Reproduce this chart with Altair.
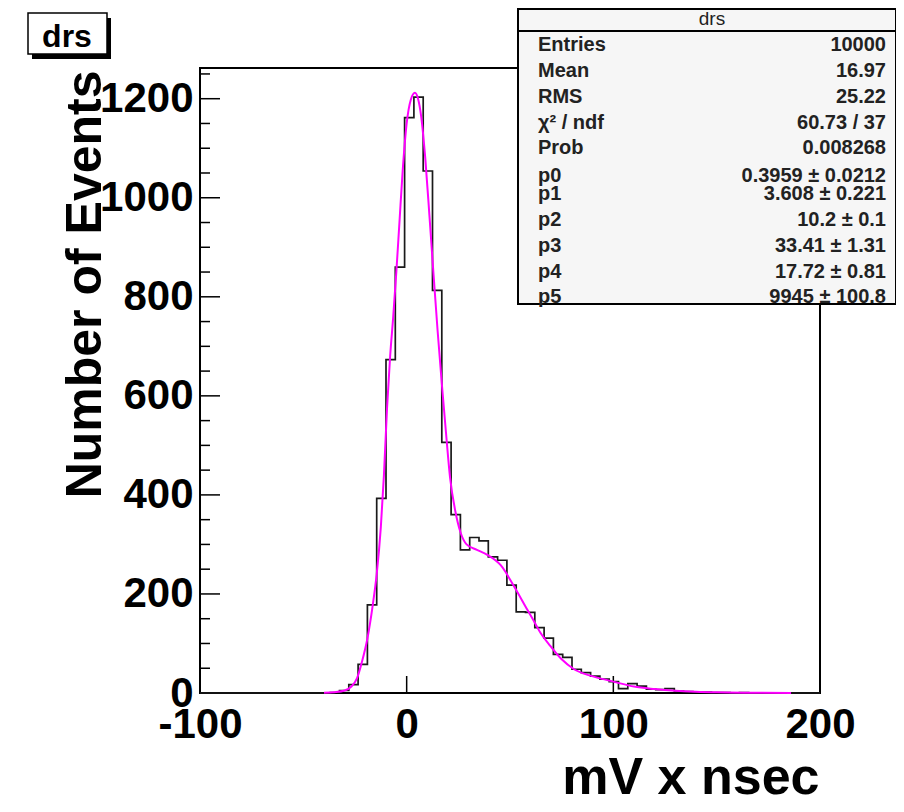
import altair as alt
import pandas as pd

# ---------------- data ----------------
bin_left = [-37, -32.5, -28, -23.5, -19, -14.5, -10, -5.5, -1, 3.5, 8, 12.5, 17,
            21.5, 26, 30.5, 35, 39.5, 44, 48.5, 53, 57.5, 62, 66.5, 71, 75.5, 80,
            84.5, 89, 93.5, 98, 102.5, 107, 111.5, 116, 120.5, 125, 129.5, 134,
            138.5, 143, 147.5, 152, 156.5, 161, 165.5]
counts = [1, 5, 17, 58, 178, 393, 673, 860, 1162, 1203, 1054, 813, 506,
          360, 289, 314, 307, 275, 268, 218, 164, 163, 132, 111, 78, 72, 48,
          41, 34, 28, 23, 9, 19, 14, 8, 7, 9, 4, 3,
          2, 2, 1, 1, 0, 1, 0]

fit_x = [-40, -35, -30, -27, -24, -21.5, -19, -16.5, -14.5, -12.5, -11, -9.5, -8,
         -6.5, -5, -3.5, -2, 0, 2, 4, 5.5, 7, 9, 11, 13, 15, 17, 19, 21, 23.5, 26,
         29, 34, 39, 45.5, 52, 58.4, 61.6, 64.8, 69.7, 75, 81, 88, 94, 100, 110,
         120, 130, 140, 150, 165, 186]
fit_y = [0.3, 1.5, 5, 12, 30, 65, 110, 175, 240, 335, 440, 575, 680,
         760, 850, 950, 1050, 1150, 1198, 1212, 1200, 1165, 1080, 965, 845, 730, 625, 527, 435, 368, 325,
         300, 289, 279, 258, 215, 168, 145, 121, 94, 68, 48, 36, 29, 23, 13,
         8, 4.5, 2.5, 1.3, 0.5, 0.1]

x_range = [-100, 200]
y_range = [0, 1262]
x_major = [-100, 0, 100, 200]
y_major = [0, 200, 400, 600, 800, 1000, 1200]
y_minor = [50, 100, 150, 250, 300, 350, 450, 500, 550, 650, 700, 750,
           850, 900, 950, 1050, 1100, 1150, 1250]

stat_title = "drs"
stat_names = ["Entries", "Mean", "RMS", "χ² / ndf", "Prob", "p0", "p1", "p2", "p3", "p4", "p5"]
stat_values = ["10000", "16.97", "25.22", "60.73 / 37", "0.008268", "0.3959 ± 0.0212",
               "3.608 ± 0.221", "10.2 ± 0.1", "33.41 ± 1.31", "17.72 ± 0.81", "9945 ± 100.8"]
hist_title = "drs"
x_title = "mV x nsec"
y_title = "Number of Events"

# ---------------- layout (pixels, relative to plot area) ----------------
W, H = 620, 625
ROW_Y = [-23, 3, 29, 55, 80, 108, 126, 152, 178, 204, 229]
FONT = "Liberation Sans"

last_edge = bin_left[-1] + (bin_left[-1] - bin_left[-2])
hist_df = pd.DataFrame({
    "x": [x_range[0]] + bin_left + [last_edge, x_range[1]],
    "y": [0] + counts + [0, 0],
})
fit_df = pd.DataFrame({"x": fit_x, "y": fit_y})
one = pd.DataFrame({"k": [0]})

xs = alt.Scale(domain=x_range, nice=False, zero=False)
ys = alt.Scale(domain=y_range, nice=False, zero=False)

x_axis = alt.Axis(
    values=x_major, title=x_title, grid=False, domain=False, ticks=False, tickSize=0,
    labelExpr="'' + datum.value",
    labelFont=FONT, labelFontWeight="bold", labelFontSize=42, labelColor="black",
    labelPadding=44, labelBaseline="alphabetic", labelFlush=False, labelOverlap=False,
    titleFont=FONT, titleFontWeight="bold", titleFontSize=52, titleColor="black",
    titleX=619, titleY=100, titleAlign="right", titleBaseline="alphabetic")
y_axis = alt.Axis(
    values=y_major, title=y_title, grid=False, domain=False, ticks=False, tickSize=0,
    labelExpr="'' + datum.value",
    labelFont=FONT, labelFontWeight="bold", labelFontSize=42, labelColor="black",
    labelPadding=7, labelAlign="right", labelBaseline="middle", labelFlush=False,
    labelOverlap=False,
    titleFont=FONT, titleFontWeight="bold", titleFontSize=50, titleColor="black",
    titleAngle=270, titleX=-100, titleY=2, titleAlign="right", titleBaseline="alphabetic")

frame = alt.Chart(one).mark_rect(filled=False, stroke="black", strokeWidth=2).encode(
    x=alt.value(0), x2=alt.value(W), y=alt.value(0), y2=alt.value(H))

ymaj = alt.Chart(pd.DataFrame({"y": y_major})).mark_rule(color="black", strokeWidth=1.5).encode(
    y=alt.Y("y:Q", scale=ys, axis=y_axis), x=alt.value(0), x2=alt.value(20))
ymin = alt.Chart(pd.DataFrame({"y": y_minor})).mark_rule(color="black", strokeWidth=1.5).encode(
    y=alt.Y("y:Q", scale=ys, axis=y_axis), x=alt.value(0), x2=alt.value(10))
xmaj = alt.Chart(pd.DataFrame({"x": x_major})).mark_rule(color="black", strokeWidth=1.5).encode(
    x=alt.X("x:Q", scale=xs, axis=x_axis), y=alt.value(H), y2=alt.value(H - 17))

hist = alt.Chart(hist_df).mark_line(interpolate="step-after", color="#1a1a1a", strokeWidth=1.7).encode(
    x=alt.X("x:Q", scale=xs, axis=x_axis),
    y=alt.Y("y:Q", scale=ys, axis=y_axis),
)

fit = alt.Chart(fit_df).mark_line(interpolate="monotone", color="#ff00ff", strokeWidth=2).encode(
    x=alt.X("x:Q", scale=xs, axis=x_axis), y=alt.Y("y:Q", scale=ys, axis=y_axis))

# statistics box
BX0, BX1, BY0, BY1 = 318, 696, -59, 236
stat_rect = alt.Chart(one).mark_rect(fill="#f6f6f6", stroke="black", strokeWidth=2).encode(
    x=alt.value(BX0), x2=alt.value(BX1), y=alt.value(BY0), y2=alt.value(BY1))
stat_sep = alt.Chart(one).mark_rule(color="black", strokeWidth=2).encode(
    x=alt.value(BX0), x2=alt.value(BX1), y=alt.value(-37))
stat_head = alt.Chart(one).mark_text(text=stat_title, font=FONT, fontSize=19, color="#222",
                                      align="center", baseline="middle").encode(
    x=alt.value(512), y=alt.value(-49))
stat_layers = [stat_rect, stat_sep, stat_head]
for name, val, ry in zip(stat_names, stat_values, ROW_Y):
    stat_layers.append(alt.Chart(one).mark_text(text=name, font=FONT, fontSize=20, fontWeight="bold",
                                                color="#222", align="left", baseline="middle").encode(
        x=alt.value(338), y=alt.value(ry)))
    stat_layers.append(alt.Chart(one).mark_text(text=val, font=FONT, fontSize=20, fontWeight="bold",
                                                color="#222", align="right", baseline="middle").encode(
        x=alt.value(686), y=alt.value(ry)))

# histogram title box with shadow
tshadow = alt.Chart(one).mark_rect(fill="black").encode(
    x=alt.value(-168), x2=alt.value(-89), y=alt.value(-50), y2=alt.value(-9))
tbox = alt.Chart(one).mark_rect(fill="white", stroke="black", strokeWidth=1.5).encode(
    x=alt.value(-172), x2=alt.value(-93), y=alt.value(-55), y2=alt.value(-14))
ttext = alt.Chart(one).mark_text(text=hist_title, font=FONT, fontWeight="bold", fontSize=32,
                                 color="black", align="center", baseline="alphabetic").encode(
    x=alt.value(-133), y=alt.value(-21))

chart = alt.layer(frame, ymaj, ymin, xmaj, hist, fit, *stat_layers, tshadow, tbox, ttext).properties(
    width=W, height=H, autosize="none",
    padding={"left": 192, "top": 60, "right": 76, "bottom": 111},
    background="white",
).configure_view(stroke="transparent")

chart.save("out.html", embed_options={"renderer": "svg", "actions": False})
